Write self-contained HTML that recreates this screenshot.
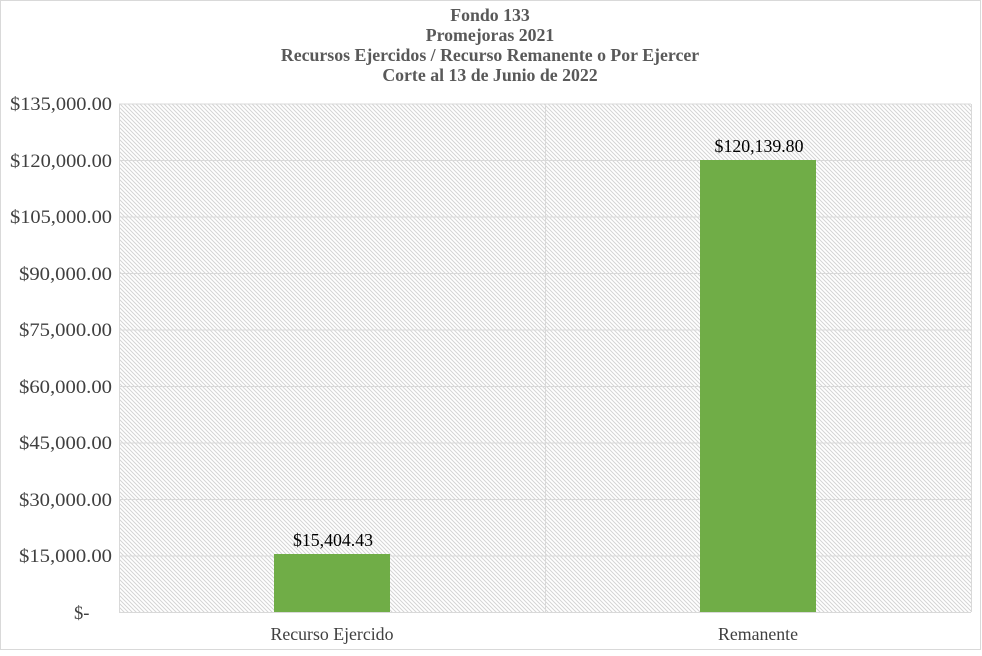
<!DOCTYPE html><html><head><style>body{margin:0;background:#fff} svg text{font-family:"Liberation Serif",serif}</style></head><body>
<svg width="982" height="651" xmlns="http://www.w3.org/2000/svg">
<defs><pattern id="h" width="4" height="4" patternUnits="userSpaceOnUse"><path d="M-1,-1 L5,5 M-1,3 L1,5 M3,-1 L5,1" stroke="#d4d4d4" stroke-width="1"/></pattern></defs>
<rect x="0.5" y="0.5" width="980" height="649" fill="#fff" stroke="#d9d9d9"/>
<g font-weight="bold" font-size="17.8" fill="#595959" text-anchor="middle">
<text x="490" y="21">Fondo 133</text><text x="490" y="41">Promejoras 2021</text>
<text x="490" y="61">Recursos Ejercidos / Recurso Remanente o Por Ejercer</text>
<text x="490" y="81">Corte al 13 de Junio de 2022</text></g>
<rect x="119" y="104" width="852" height="508" fill="url(#h)"/>
<g stroke="#d9d9d9" stroke-width="1">
<line x1="119" y1="104" x2="971" y2="104"/><line x1="119" y1="160.5" x2="971" y2="160.5"/><line x1="119" y1="217" x2="971" y2="217"/><line x1="119" y1="273.5" x2="971" y2="273.5"/><line x1="119" y1="330" x2="971" y2="330"/><line x1="119" y1="386.5" x2="971" y2="386.5"/><line x1="119" y1="443" x2="971" y2="443"/><line x1="119" y1="499.5" x2="971" y2="499.5"/><line x1="119" y1="556" x2="971" y2="556"/><line x1="119" y1="612.5" x2="971" y2="612.5"/>
<line x1="119.5" y1="104" x2="119.5" y2="612"/><line x1="545.5" y1="104" x2="545.5" y2="612"/><line x1="971.5" y1="104" x2="971.5" y2="612"/></g>
<rect x="274" y="554" width="116" height="58" fill="#70ad47"/>
<rect x="700" y="160" width="116" height="452" fill="#70ad47"/>
<g font-size="17.8" fill="#000" text-anchor="middle"><text x="333" y="546">$15,404.43</text><text x="759" y="152">$120,139.80</text></g>
<g font-size="17.8" fill="#404040" text-anchor="middle"><text x="332" y="640">Recurso Ejercido</text><text x="758" y="640">Remanente</text></g>
<g font-size="18.5" fill="#404040">
<text x="10" y="110" textLength="102" lengthAdjust="spacingAndGlyphs">$135,000.00</text>
<text x="10" y="167" textLength="102" lengthAdjust="spacingAndGlyphs">$120,000.00</text>
<text x="10" y="223" textLength="102" lengthAdjust="spacingAndGlyphs">$105,000.00</text>
<text x="19" y="280" textLength="93" lengthAdjust="spacingAndGlyphs">$90,000.00</text>
<text x="19" y="336" textLength="93" lengthAdjust="spacingAndGlyphs">$75,000.00</text>
<text x="19" y="393" textLength="93" lengthAdjust="spacingAndGlyphs">$60,000.00</text>
<text x="19" y="449" textLength="93" lengthAdjust="spacingAndGlyphs">$45,000.00</text>
<text x="19" y="506" textLength="93" lengthAdjust="spacingAndGlyphs">$30,000.00</text>
<text x="19" y="562" textLength="93" lengthAdjust="spacingAndGlyphs">$15,000.00</text>
<text x="74" y="619">$-</text></g>
</svg></body></html>
